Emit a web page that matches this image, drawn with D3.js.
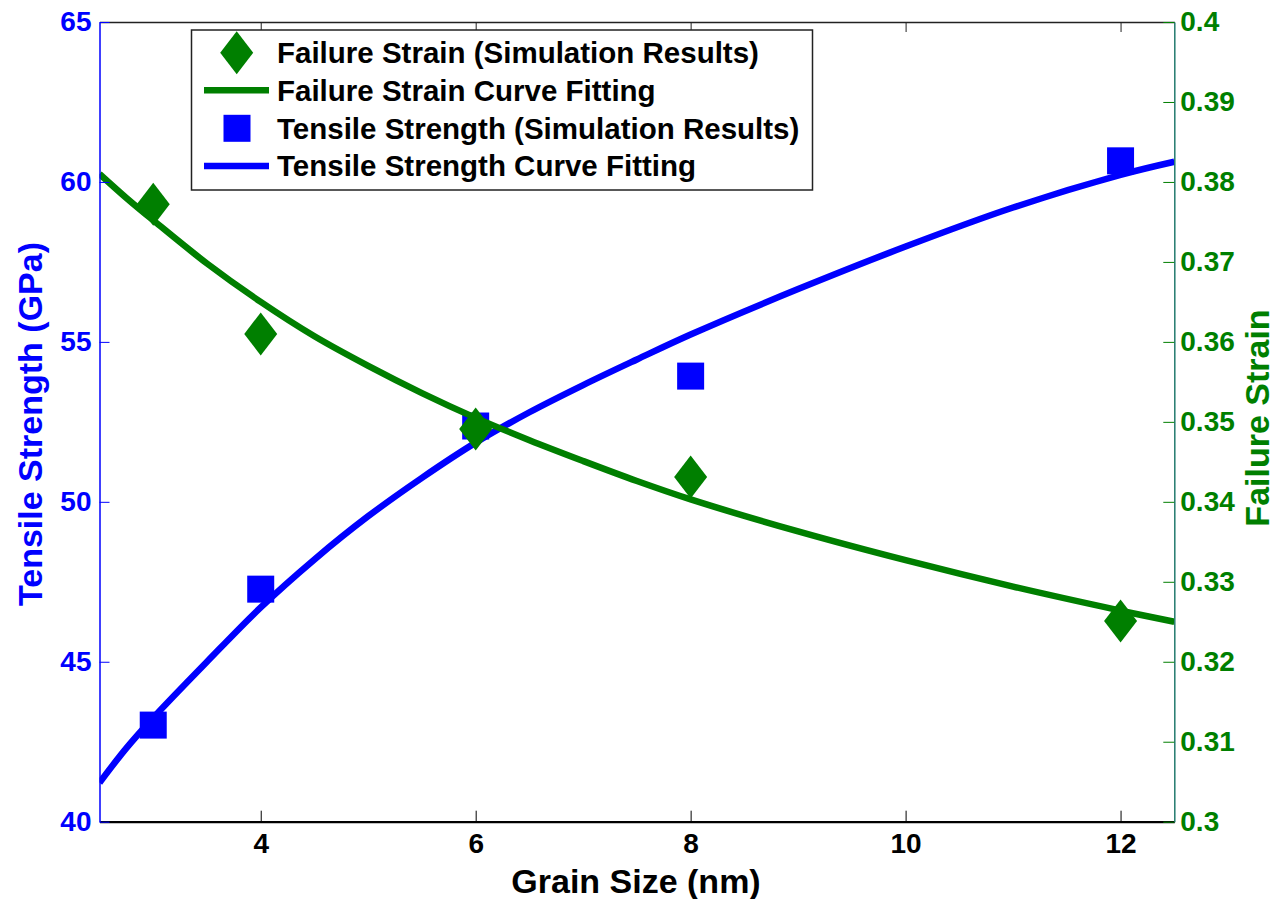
<!DOCTYPE html>
<html>
<head>
<meta charset="utf-8">
<script src="https://cdn.jsdelivr.net/npm/d3@7"></script>
<style>
  html, body { margin: 0; padding: 0; background: #fff; }
  svg { display: block; font-family: "Liberation Sans", Arial, Helvetica, sans-serif; font-weight: bold; }
</style>
</head>
<body>
<svg id="chart" width="1276" height="899"></svg>
<script>
// Simulation results (grain size in nm)
const grainSizes = [3, 4, 6, 8, 12];
const tensileStrength = [43.02, 47.27, 52.37, 53.93, 60.66];   // GPa
const failureStrain = [0.3772, 0.3610, 0.3491, 0.3431, 0.3251];

// Fitted curves sampled along grain size
const fitGrain = [2.5, 2.75, 3, 3.5, 4, 4.5, 5, 5.5, 6, 6.5, 7, 7.5, 8, 9, 10, 11, 12, 12.5];
const tensileFit = [41.22, 42.30, 43.25, 45.00, 46.70, 48.20, 49.55, 50.75, 51.85, 52.80, 53.65, 54.45, 55.23, 56.65, 57.98, 59.20, 60.22, 60.63];
const strainFit = [0.3810, 0.3780, 0.3752, 0.3698, 0.3650, 0.3607, 0.3570, 0.3536, 0.3505, 0.3477, 0.3451, 0.3426, 0.3403, 0.3363, 0.3327, 0.3294, 0.3264, 0.3250];

// Axis ticks
const xTicks = [4, 6, 8, 10, 12];
const leftTicks = [40, 45, 50, 55, 60, 65];
const rightTicks = [0.3, 0.31, 0.32, 0.33, 0.34, 0.35, 0.36, 0.37, 0.38, 0.39, 0.4];

// Legend entries
const legendLabels = [
  "Failure Strain (Simulation Results)",
  "Failure Strain Curve Fitting",
  "Tensile Strength (Simulation Results)",
  "Tensile Strength Curve Fitting"
];

const BLUE = "#0000ff";
const GREEN = "#007f00";
const FONT = "Liberation Sans, Arial, sans-serif";

const plot = { left: 99.5, right: 1174.3, top: 22, bottom: 821.7 };

const svg = d3.select("#chart");

const x = d3.scaleLinear().domain([2.5, 12.5]).range([plot.left, plot.right]);
const yL = d3.scaleLinear().domain([40, 65]).range([plot.bottom, plot.top]);
const yR = d3.scaleLinear().domain([0.3, 0.4]).range([plot.bottom, plot.top]);

// Clip so curves stay inside the axes box
svg.append("defs").append("clipPath").attr("id", "plotClip")
  .append("rect")
  .attr("x", plot.left).attr("y", plot.top)
  .attr("width", plot.right - plot.left).attr("height", plot.bottom - plot.top);

const diamondPath = (hw, hh) => `M0,${-hh}L${hw},0L0,${hh}L${-hw},0Z`;

// ---- Tensile strength (left axis) ----
const gBlue = svg.append("g").attr("clip-path", "url(#plotClip)");
gBlue.append("path")
  .datum(fitGrain.map((g, i) => [g, tensileFit[i]]))
  .attr("fill", "none")
  .attr("stroke", BLUE)
  .attr("stroke-width", 6.5)
  .attr("d", d3.line().x(d => x(d[0])).y(d => yL(d[1])).curve(d3.curveCatmullRom));

gBlue.selectAll("rect.sq")
  .data(grainSizes.map((g, i) => [g, tensileStrength[i]]))
  .join("rect")
  .attr("class", "sq")
  .attr("x", d => x(d[0]) - 13.5)
  .attr("y", d => yL(d[1]) - 13.5)
  .attr("width", 27).attr("height", 27)
  .attr("fill", BLUE);

// ---- Failure strain (right axis) ----
const gGreen = svg.append("g").attr("clip-path", "url(#plotClip)");
gGreen.append("path")
  .datum(fitGrain.map((g, i) => [g, strainFit[i]]))
  .attr("fill", "none")
  .attr("stroke", GREEN)
  .attr("stroke-width", 6.5)
  .attr("d", d3.line().x(d => x(d[0])).y(d => yR(d[1])).curve(d3.curveCatmullRom));

gGreen.selectAll("path.dm")
  .data(grainSizes.map((g, i) => [g, failureStrain[i]]))
  .join("path")
  .attr("class", "dm")
  .attr("transform", d => `translate(${x(d[0])},${yR(d[1])})`)
  .attr("d", diamondPath(16.5, 21.5))
  .attr("fill", GREEN);

// ---- Axes frame ----
// bottom x axis
const xAxisBottom = d3.axisBottom(x).tickValues(xTicks).tickSizeInner(-11).tickSizeOuter(0).tickPadding(11).tickFormat(d3.format("d"));
const gx = svg.append("g").attr("transform", `translate(0,${plot.bottom})`).call(xAxisBottom);
gx.select(".domain").attr("stroke", "#000").attr("stroke-width", 2.2);
gx.selectAll(".tick line").attr("stroke", "#000").attr("stroke-width", 1);
gx.selectAll(".tick text").attr("font-size", 28).attr("font-family", FONT).attr("font-weight", "bold").attr("fill", "#000");

// top x axis (ticks only)
const xAxisTop = d3.axisTop(x).tickValues(xTicks).tickSizeInner(-10).tickSizeOuter(0).tickFormat("");
const gxt = svg.append("g").attr("transform", `translate(0,${plot.top})`).call(xAxisTop);
gxt.select(".domain").attr("stroke", "#222").attr("stroke-width", 1.5);
gxt.selectAll(".tick line").attr("stroke", "#222").attr("stroke-width", 1);

// left y axis
const yAxisLeft = d3.axisLeft(yL).tickValues(leftTicks).tickSizeInner(-10).tickSizeOuter(0).tickPadding(8).tickFormat(d3.format("d"));
const gyl = svg.append("g").attr("transform", `translate(${plot.left},0)`).call(yAxisLeft);
gyl.select(".domain").attr("stroke", BLUE).attr("stroke-width", 1.5);
gyl.selectAll(".tick line").attr("stroke", BLUE).attr("stroke-width", 1);
gyl.selectAll(".tick text").attr("font-size", 28).attr("font-family", FONT).attr("font-weight", "bold").attr("fill", BLUE);

// right y axis
const yAxisRight = d3.axisRight(yR).tickValues(rightTicks).tickSizeInner(-11).tickSizeOuter(0).tickPadding(6)
  .tickFormat(d => String(+d.toFixed(2)));
const gyr = svg.append("g").attr("transform", `translate(${plot.right},0)`).call(yAxisRight);
gyr.select(".domain").attr("stroke", "#237a6e").attr("stroke-width", 1.5);
gyr.selectAll(".tick line").attr("stroke", GREEN).attr("stroke-width", 1);
gyr.selectAll(".tick text").attr("font-size", 28).attr("font-family", FONT).attr("font-weight", "bold").attr("fill", GREEN);

// ---- Axis titles ----
svg.append("text")
  .attr("x", 636)
  .attr("y", 893)
  .attr("text-anchor", "middle")
  .attr("font-size", 34)
  .attr("fill", "#000")
  .text("Grain Size (nm)");

svg.append("text")
  .attr("transform", `translate(42,424) rotate(-90)`)
  .attr("text-anchor", "middle")
  .attr("font-size", 34)
  .attr("fill", BLUE)
  .text("Tensile Strength (GPa)");

svg.append("text")
  .attr("transform", `translate(1269,418) rotate(-90)`)
  .attr("text-anchor", "middle")
  .attr("font-size", 34)
  .attr("fill", GREEN)
  .text("Failure Strain");

// ---- Legend ----
const legend = svg.append("g");
legend.append("rect")
  .attr("x", 191.5).attr("y", 30)
  .attr("width", 621).attr("height", 160)
  .attr("fill", "#fff")
  .attr("stroke", "#222").attr("stroke-width", 1.5);

const rowY = [52.7, 90.3, 128.3, 166];
const rows = legend.selectAll("g.row").data(legendLabels).join("g").attr("class", "row")
  .attr("transform", (d, i) => `translate(0,${rowY[i]})`);

rows.append("text")
  .attr("x", 277)
  .attr("y", 0)
  .attr("dy", "0.35em")
  .attr("font-size", 29.5)
  .attr("fill", "#000")
  .text(d => d);

rows.filter((d, i) => i === 0).append("path")
  .attr("transform", "translate(236.7,0)")
  .attr("d", diamondPath(16.5, 21.5))
  .attr("fill", GREEN);
rows.filter((d, i) => i === 1).append("line")
  .attr("x1", 204).attr("x2", 269).attr("stroke", GREEN).attr("stroke-width", 6.5);
rows.filter((d, i) => i === 2).append("rect")
  .attr("x", 223.5).attr("y", -13.5).attr("width", 27).attr("height", 27).attr("fill", BLUE);
rows.filter((d, i) => i === 3).append("line")
  .attr("x1", 204).attr("x2", 269).attr("stroke", BLUE).attr("stroke-width", 6.5);
</script>
</body>
</html>
